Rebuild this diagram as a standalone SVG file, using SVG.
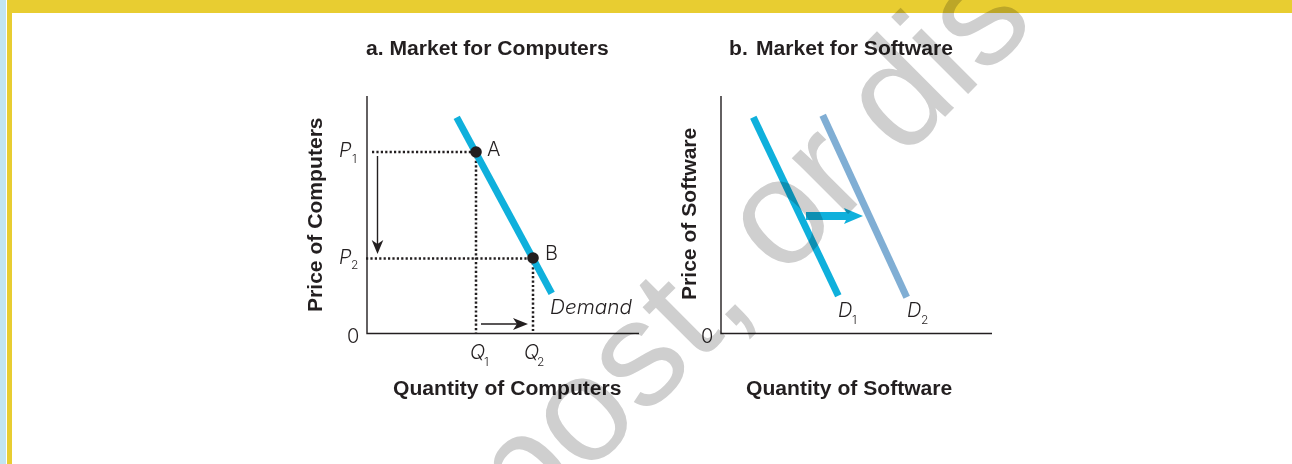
<svg xmlns="http://www.w3.org/2000/svg" width="1292" height="464" viewBox="0 0 1292 464">
<style>
text{font-family:"Liberation Sans",Arial,sans-serif;fill:#231f20}
.t{font-weight:bold;font-size:21.100px}
.l,.i,.s{font-family:Inter,"Liberation Sans",sans-serif;font-weight:300}
.l{font-size:20px}
.i{font-size:20px;font-style:italic}
.s{font-size:12px}
.ax{stroke:#231f20;stroke-width:1.400;fill:none}
.dot{stroke:#231f20;stroke-width:2.500;stroke-dasharray:2.200 2.200;fill:none}
.arr{stroke:#231f20;stroke-width:1.400;fill:none}
.head{fill:#231f20;stroke:none}
.d{stroke-width:7;fill:none}
.pt{fill:#231f20}
</style>
<rect width="1292" height="464" fill="#fff"/>
<g id="frame">
<rect x="0" y="0" width="6" height="464" fill="#c2e5f1"/>
<rect x="7" y="0" width="1285" height="13" fill="#e8cd31"/>
<rect x="7" y="13" width="5" height="451" fill="#e8cd31"/>
</g>
<g id="connectors">
<path class="ax" d="M367 96V333.500H639"/>
<path class="ax" d="M721 96V333.500H992"/>
<path class="dot" d="M372 152H476M366 258.500H533M476 152V333M533 258.500V333"/>
<path class="d" stroke="#0fb0dc" d="M456.700 117.300L551.700 293.300"/>
<path class="d" stroke="#0fb0dc" d="M753.300 117.300L838.300 295.700"/>
<path class="d" stroke="#80aed4" d="M822.700 115.300L906.700 297.300"/>
<path class="arr" d="M377.500 156V246M481 324H518"/>
<path class="head" d="M377.500 254L371.700 240L377.500 244L383.300 240Z"/>
<path class="head" d="M528 324L513 318L517 324L513 330Z"/>
<path d="M806 212H846L844 208L863 216L844 224L846 220H806Z" fill="#0fb0dc"/>
</g>
<g id="point-a"><circle class="pt" cx="476" cy="152" r="5.800"/><text class="l" x="487" y="156">A</text></g>
<g id="point-b"><circle class="pt" cx="533" cy="258" r="5.800"/><text class="l" x="545" y="260">B</text></g>
<g id="labels">
<text class="t" x="366" y="55">a. Market for Computers</text>
<text class="t" x="729" y="55">b.<tspan x="756">Market for Software</tspan></text>
<text class="t" transform="translate(322 312) rotate(-90)">Price of Computers</text>
<text class="t" transform="translate(696 300) rotate(-90)">Price of Software</text>
<text class="t" x="393" y="395">Quantity of Computers</text>
<text class="t" x="746" y="395">Quantity of Software</text>
<text class="i" x="339" y="157">P</text><text class="s" x="352" y="163">1</text>
<text class="i" x="339" y="264">P</text><text class="s" x="351" y="269">2</text>
<text class="l" x="347" y="343">0</text>
<text class="l" x="701" y="343">0</text>
<text class="i" x="470" y="359">Q</text><text class="s" x="484" y="366">1</text>
<text class="i" x="524" y="359">Q</text><text class="s" x="537" y="366">2</text>
<text class="i" x="550" y="314" textLength="82" lengthAdjust="spacingAndGlyphs">Demand</text>
<text class="i" x="838" y="317">D</text><text class="s" x="852" y="324">1</text>
<text class="i" x="907" y="317">D</text><text class="s" x="921" y="324">2</text>
</g>
<g id="watermark" style="mix-blend-mode:multiply">
<text transform="translate(526 536) rotate(-45)" font-size="150" word-spacing="-5" style="fill:#cfcfcf">post, or dis</text>
</g>
</svg>
